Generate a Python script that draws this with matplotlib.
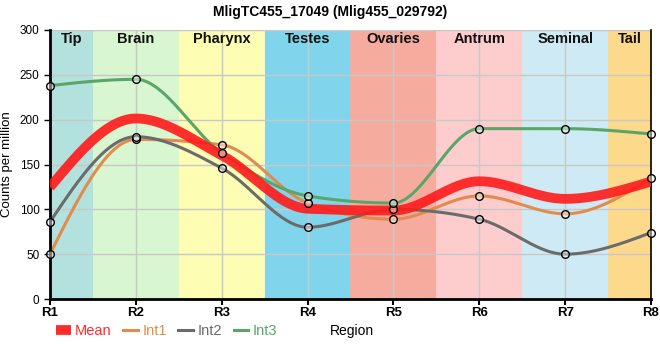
import numpy as np
import matplotlib
matplotlib.use("Agg")
import matplotlib.pyplot as plt
from matplotlib.lines import Line2D

plt.rcParams['font.family'] = ['Liberation Sans', 'DejaVu Sans']

regions = ["R1", "R2", "R3", "R4", "R5", "R6", "R7", "R8"]
tissues = ["Tip", "Brain", "Pharynx", "Testes", "Ovaries", "Antrum", "Seminal", "Tail"]
tissue_colors = ["#b3e1dd", "#d8f6cf", "#fdfdb3", "#80d5ec", "#f5ac9f", "#fdcccc", "#ceeaf4", "#fdd98b"]

int1 = [50, 178, 172, 107, 89, 115, 95, 135]
int2 = [86, 181, 146, 80, 100, 89, 50, 74]
int3 = [238, 245, 163, 115, 107, 190, 190, 184]
mean = [(a + b + c) / 3 for a, b, c in zip(int1, int2, int3)]

series = [("Int1", int1, "#e08c4e"), ("Int2", int2, "#6b6b6b"), ("Int3", int3, "#5aa66a")]


def monotone(x, y, n=40):
    x = np.asarray(x, float); y = np.asarray(y, float)
    h = np.diff(x); s = np.diff(y) / h
    m = len(x)
    t = np.zeros(m)
    for i in range(1, m - 1):
        s0, s1, h0, h1 = s[i - 1], s[i], h[i - 1], h[i]
        p = (s0 * h1 + s1 * h0) / (h0 + h1)
        t[i] = (np.sign(s0) + np.sign(s1)) * min(abs(s0), abs(s1), 0.5 * abs(p))
    t[0] = (3 * s[0] - t[1]) / 2
    t[-1] = (3 * s[-1] - t[-2]) / 2
    xs, ys = [], []
    for i in range(m - 1):
        u = np.linspace(0, 1, n, endpoint=(i == m - 2))
        h00 = 2 * u**3 - 3 * u**2 + 1
        h10 = u**3 - 2 * u**2 + u
        h01 = -2 * u**3 + 3 * u**2
        h11 = u**3 - u**2
        xs.append(x[i] + u * h[i])
        ys.append(h00 * y[i] + h10 * h[i] * t[i] + h01 * y[i + 1] + h11 * h[i] * t[i + 1])
    return np.concatenate(xs), np.concatenate(ys)


fig = plt.figure(figsize=(6.6, 3.6), dpi=100)
ax = fig.add_axes([50 / 660, 61 / 360, 601 / 660, 269 / 360])
xpos = np.arange(len(regions))

for i, (name, c) in enumerate(zip(tissues, tissue_colors)):
    lo = max(i - 0.5, 0); hi = min(i + 0.5, len(regions) - 1)
    ax.axvspan(lo, hi, color=c, zorder=0, lw=0)
    ax.text((lo + hi) / 2, 290, name, ha="center", va="center", fontsize=10.5,
            fontweight="bold", color="#111111", zorder=5)

for yv in range(0, 301, 50):
    ax.axhline(yv, color="#c8c8c8", lw=1, zorder=1)
for xv in xpos:
    ax.axvline(xv, color="#c8c8c8", lw=1, zorder=1)

xs, ys = monotone(xpos, mean)
ax.plot(xs, ys, color="#ff1a1a", lw=7, alpha=0.9, zorder=3, solid_capstyle="butt")
for name, vals, c in series:
    xs, ys = monotone(xpos, vals)
    ax.plot(xs, ys, color=c, lw=2.2, zorder=2.5)
    ax.plot(xpos, vals, "o", ms=5.5, mfc=(1, 1, 1, 0.45), mec="black", mew=1, zorder=4, clip_on=False)

ax.set_xlim(0, len(regions) - 1)
ax.set_ylim(0, 300)
ax.set_xticks(xpos)
ax.set_xticklabels(regions, fontsize=9.5, fontweight="bold")
ax.set_yticks(range(0, 301, 50))
ax.tick_params(axis="y", labelsize=8.5, length=4, width=1)
ax.tick_params(axis="x", length=4, width=1.5, pad=2)
for sp in ["left", "bottom"]:
    ax.spines[sp].set_linewidth(2)
ax.spines["right"].set_linewidth(1.2)
ax.spines["top"].set_visible(False)
ax.set_ylabel("Counts per million", fontsize=9.5)
ax.yaxis.set_label_coords(-0.062, 0.5)

fig.text(0.5, 0.985, "MligTC455_17049 (Mlig455_029792)", ha="center", va="top",
         fontsize=10, fontweight="bold")

handles = [Line2D([], [], color="#ff2a2a", lw=7, solid_capstyle="butt")] + \
          [Line2D([], [], color=c, lw=2.2) for _, _, c in series]
labels = ["Mean"] + [n for n, _, _ in series]
leg = fig.legend(handles, labels, loc="center left", bbox_to_anchor=(0.065, 0.08), ncol=4,
                 frameon=False, fontsize=10.5, handlelength=1.0, handletextpad=0.3,
                 columnspacing=0.8, labelcolor="linecolor")
fig.text(352 / 660, 1 - 331 / 360, "Region", ha="center", va="center", fontsize=10)

fig.savefig("out.png", dpi=100)
